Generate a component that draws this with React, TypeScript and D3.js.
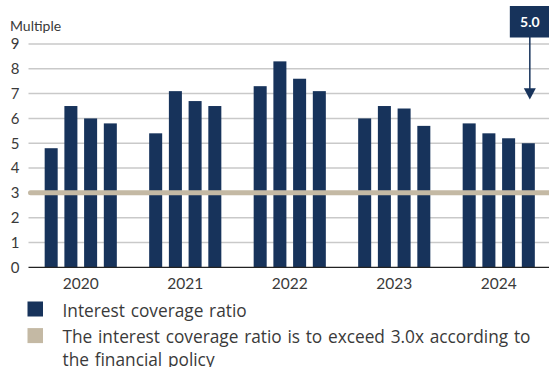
import React from "react";
import * as d3 from "d3";

const years = ["2020", "2021", "2022", "2023", "2024"];
const quarters = ["Q1", "Q2", "Q3", "Q4"];
const coverage = [
  [4.8, 6.5, 6.0, 5.8],
  [5.4, 7.1, 6.7, 6.5],
  [7.3, 8.3, 7.6, 7.1],
  [6.0, 6.5, 6.4, 5.7],
  [5.8, 5.4, 5.2, 5.0],
];
const threshold = 3.0;
const yTicks = [0, 1, 2, 3, 4, 5, 6, 7, 8, 9];
const yLabel = "Multiple";
const legendItems = [
  { label: ["Interest coverage ratio"], color: "#17335b" },
  { label: ["The interest coverage ratio is to exceed 3.0x according to", "the financial policy"], color: "#c4b9a4" },
];

const W = 549;
const H = 367;
const NAVY = "#17335b";
const TAN = "#c4b9a4";
const FONT = "Lato, 'Open Sans', sans-serif";
const LEGEND_FONT = "'Open Sans', Lato, sans-serif";

export default function App() {
  const left = 28.5;
  const right = 551;
  const x = d3.scaleBand<string>().domain(years).range([left, right]);
  const inner = d3
    .scaleBand<string>()
    .domain(quarters)
    .range([0, x.bandwidth()])
    .paddingInner(0.34)
    .paddingOuter(0.82);
  const y = d3.scaleLinear().domain([0, 9]).range([267.3, 44]);

  const lastYear = years[years.length - 1];
  const lastQ = quarters[quarters.length - 1];
  const lastVal = coverage[coverage.length - 1][quarters.length - 1];
  const annX = (x(lastYear) ?? 0) + (inner(lastQ) ?? 0) + inner.bandwidth() / 2 + 1.5;

  return (
    <svg
      width={W}
      height={H}
      style={{ position: "absolute", left: 0, top: 0, background: "#fff" }}
      fontFamily={FONT}
    >
      <text x={10} y={31} fontSize={14} fill="#3a3a3a">{yLabel}</text>
      {yTicks.map((t) => (
        <g key={t}>
          {t > 0 && (
            <line x1={left} x2={W} y1={y(t)} y2={y(t)} stroke="#c9c9c9" strokeWidth={1.5} />
          )}
          <text x={19.5} y={y(t)} dy="0.36em" textAnchor="end" fontSize={15} fill="#3a3a3a">
            {t}
          </text>
        </g>
      ))}
      {years.map((yr, i) => (
        <g key={yr} transform={`translate(${x(yr)},0)`}>
          {quarters.map((q, j) => (
            <rect
              key={q}
              x={inner(q)}
              width={inner.bandwidth()}
              y={y(coverage[i][j])}
              height={y(0) - y(coverage[i][j])}
              fill={NAVY}
            />
          ))}
          <text
            x={x.bandwidth() / 2}
            y={288.5}
            textAnchor="middle"
            fontSize={15.5}
            fill="#3a3a3a"
          >
            {yr}
          </text>
        </g>
      ))}
      <line x1={left} x2={W} y1={y(0)} y2={y(0)} stroke="#222" strokeWidth={1.3} />
      <line
        x1={left + 2}
        x2={W + 5}
        y1={y(threshold)}
        y2={y(threshold)}
        stroke={TAN}
        strokeWidth={5}
        strokeLinecap="round"
      />
      {/* annotation */}
      <rect x={annX - 20} y={6} width={40} height={31.5} fill={NAVY} />
      <text x={annX} y={27} textAnchor="middle" fontSize={14} fontWeight="bold" fill="#fff">
        {lastVal.toFixed(1)}
      </text>
      <line x1={annX} x2={annX} y1={37} y2={90} stroke={NAVY} strokeWidth={1.5} />
      <path d={`M${annX - 6},88.3 L${annX + 6},88.3 L${annX},99.5 Z`} fill={NAVY} />
      {/* legend */}
      {legendItems.map((item, i) => {
        const top = 301.5 + i * 26.6;
        return (
          <g key={i}>
            <rect x={27.5} y={top} width={15.5} height={15} fill={item.color} />
            {item.label.map((ln, k) => (
              <text
                key={k}
                x={62.5}
                y={top + 15 + k * 22.8}
                fontSize={17.3}
                wordSpacing={1.2}
                fontFamily={LEGEND_FONT}
                fill="#3a3a3a"
              >
                {ln}
              </text>
            ))}
          </g>
        );
      })}
    </svg>
  );
}
